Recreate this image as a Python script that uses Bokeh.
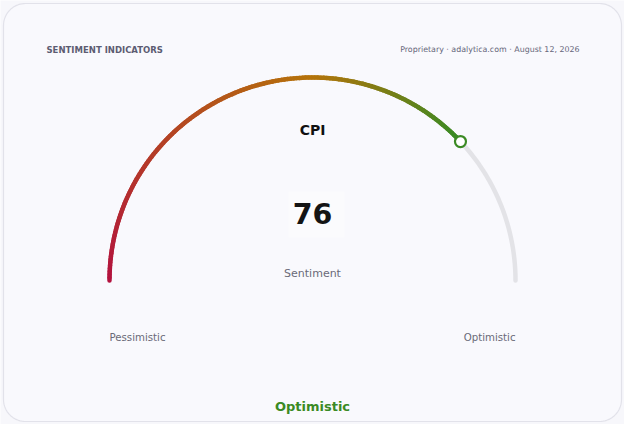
import numpy as np
from bokeh.plotting import figure
from bokeh.embed import file_html
from bokeh.resources import INLINE
from bokeh.core.properties import value

# data
indicator = "CPI"
score = 76
score_min, score_max = 0, 100
unit_label = "Sentiment"
low_label = "Pessimistic"
high_label = "Optimistic"
verdict = "Optimistic"
header = "SENTIMENT INDICATORS"
source = "Proprietary \u00b7 adalytica.com \u00b7 August 12, 2026"

# gradient stops along the scale (position, colour)
stops = [(0, "#b3123e"), (50, "#b5730a"), (75, "#3b8a24"), (100, "#3b8a24")]

W, H = 624, 424
FONT = value("DejaVu Sans")

p = figure(width=W, height=H, x_range=(0, W), y_range=(0, H),
           output_backend="svg", toolbar_location=None, min_border=0)
p.axis.visible = False
p.grid.visible = False
p.outline_line_color = None
p.background_fill_color = "#f7f7fb"
p.border_fill_color = "#f7f7fb"


def sy(y):
    # screen row (page pixels) -> data y
    return H - (y - 8)


def sx(x):
    return x - 8


# rounded card
L, R, T, B, rad = sx(11), sx(629), sy(11), sy(429), 22
cx_pts, cy_pts = [], []
for (ccx, ccy, a0) in [(R - rad, T - rad, 0), (L + rad, T - rad, 90),
                       (L + rad, B + rad, 180), (R - rad, B + rad, 270)]:
    t = np.radians(np.linspace(a0, a0 + 90, 20))
    cx_pts += list(ccx + rad * np.cos(t))
    cy_pts += list(ccy + rad * np.sin(t))
p.patch(cx_pts, cy_pts, fill_color="#f9f9fd", line_color="#e2e2ea", line_width=1.2)

# gauge
gx, gy, gr = sx(320), sy(288), 203


def ang(v):
    return np.pi * (1 - (v - score_min) / (score_max - score_min))


def hex2rgb(h):
    return np.array([int(h[i:i + 2], 16) for i in (1, 3, 5)], float)


def colour_at(v):
    for (p0, c0), (p1, c1) in zip(stops[:-1], stops[1:]):
        if p0 <= v <= p1:
            f = (v - p0) / (p1 - p0) if p1 > p0 else 0
            c = hex2rgb(c0) * (1 - f) + hex2rgb(c1) * f
            return "#%02x%02x%02x" % tuple(int(round(x)) for x in c)
    return stops[-1][1]


# background track
tt = np.linspace(ang(score), ang(score_max), 80)
p.line(gx + gr * np.cos(tt), gy + gr * np.sin(tt), line_color="#e3e3e7",
       line_width=4.5, line_cap="round")

# filled gradient part
n = 160
vals = np.linspace(score_min, score, n + 1)
xs, ys, cols = [], [], []
for i in range(n):
    a = np.array([ang(vals[i]), ang(vals[i + 1])])
    xs.append(list(gx + gr * np.cos(a)))
    ys.append(list(gy + gr * np.sin(a)))
    cols.append(colour_at((vals[i] + vals[i + 1]) / 2))
p.multi_line(xs, ys, line_color=cols, line_width=4.5, line_cap="round")

# marker
p.scatter([gx + gr * np.cos(ang(score))], [gy + gr * np.sin(ang(score))], size=11,
          fill_color="#ffffff", line_color=colour_at(score), line_width=2.2)

# faint plate behind the number
p.rect([gx + 4], [sy(222)], width=56, height=46, fill_color="#ffffff",
       fill_alpha=0.3, line_color=None)

# texts
p.text([sx(54)], [sy(57)], text=[header], text_font=FONT, text_font_size="8.5px",
       text_font_style="bold", text_color="#5c5c72", text_baseline="middle")
p.text([sx(587)], [sy(57)], text=[source], text_font=FONT, text_font_size="7.9px",
       text_color="#66667a", text_align="right", text_baseline="middle")
p.text([gx], [sy(137)], text=[indicator], text_font=FONT, text_font_size="14px",
       text_font_style="bold", text_color="#111111", text_align="center", text_baseline="middle")
p.text([gx], [sy(221)], text=[str(score)], text_font=FONT, text_font_size="28.5px",
       text_font_style="bold", text_color="#141414", text_align="center", text_baseline="middle")
p.text([gx], [sy(281)], text=[unit_label], text_font=FONT, text_font_size="11px",
       text_color="#6a6a78", text_align="center", text_baseline="middle")
p.text([sx(117)], [sy(345)], text=[low_label], text_font=FONT, text_font_size="10.2px",
       text_color="#6a6a78", text_align="left", text_baseline="middle")
p.text([sx(523)], [sy(345)], text=[high_label], text_font=FONT, text_font_size="10.2px",
       text_color="#6a6a78", text_align="right", text_baseline="middle")
p.text([gx], [sy(414)], text=[verdict], text_font=FONT, text_font_size="13px",
       text_font_style="bold", text_color=colour_at(score), text_align="center",
       text_baseline="middle")

open("out.html", "w").write(file_html(p, INLINE))
